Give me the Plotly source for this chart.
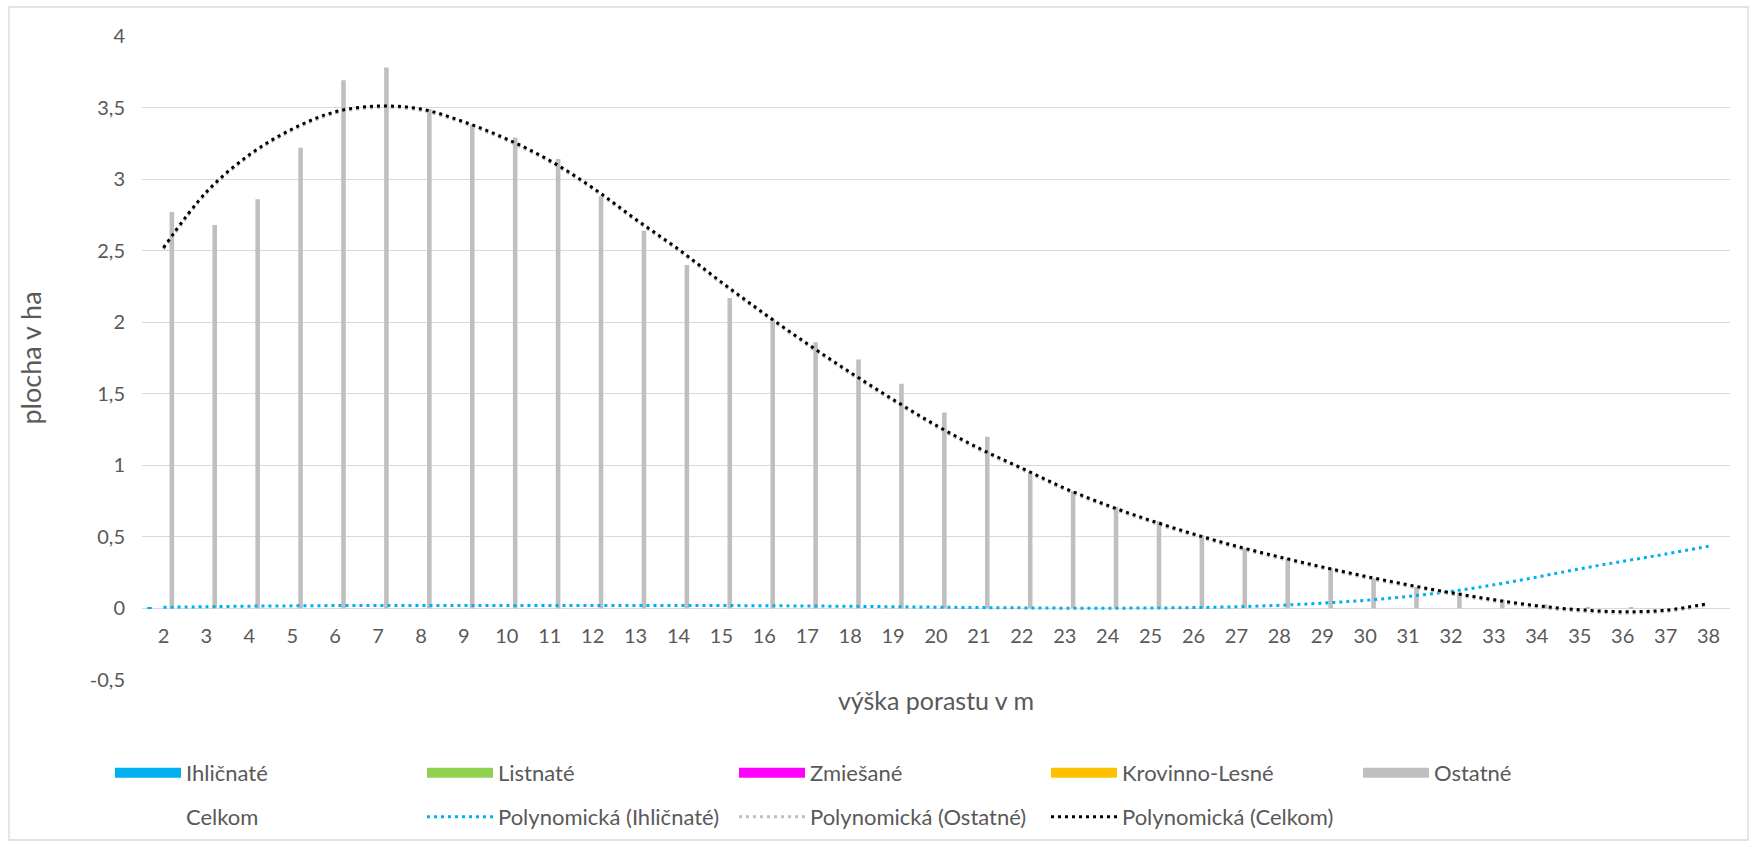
import plotly.graph_objects as go

# ---------------- data ----------------
categories = ["2", "3", "4", "5", "6", "7", "8", "9", "10", "11", "12", "13", "14",
              "15", "16", "17", "18", "19", "20", "21", "22", "23", "24", "25", "26",
              "27", "28", "29", "30", "31", "32", "33", "34", "35", "36", "37", "38"]

ihlicnate = [0.01, 0, 0, 0, 0, 0, 0, 0, 0, 0, 0, 0, 0, 0, 0, 0, 0, 0, 0, 0, 0, 0,
             0, 0, 0, 0, 0, 0, 0, 0, 0, 0, 0, 0, 0, 0, 0]
listnate = [0] * 37
zmiesane = [0] * 37
krovinno_lesne = [0] * 37
ostatne = [2.77, 2.68, 2.86, 3.22, 3.69, 3.78, 3.49, 3.38, 3.29, 3.14, 2.88, 2.64,
           2.40, 2.17, 2.02, 1.86, 1.74, 1.57, 1.37, 1.20, 0.95, 0.82, 0.71, 0.61,
           0.51, 0.42, 0.35, 0.28, 0.21, 0.15, 0.11, 0.06, 0.03, 0.01, 0.01, 0.0, 0.0]
celkom = [2.78, 2.68, 2.86, 3.22, 3.69, 3.78, 3.49, 3.38, 3.29, 3.14, 2.88, 2.64,
          2.40, 2.17, 2.02, 1.86, 1.74, 1.57, 1.37, 1.20, 0.95, 0.82, 0.71, 0.61,
          0.51, 0.42, 0.35, 0.28, 0.21, 0.15, 0.11, 0.06, 0.03, 0.01, 0.01, 0.0, 0.0]

# trendlines (values at each category)
trend_ihlicnate = [0.008, 0.012, 0.016, 0.018, 0.020, 0.020, 0.020, 0.020, 0.021,
                   0.021, 0.021, 0.021, 0.020, 0.020, 0.019, 0.017, 0.015, 0.012,
                   0.009, 0.006, 0.004, 0.002, 0.002, 0.003, 0.006, 0.012, 0.022,
                   0.037, 0.057, 0.084, 0.119, 0.165, 0.219, 0.277, 0.329, 0.380, 0.434]
trend_celkom = [2.52, 2.91, 3.17, 3.35, 3.47, 3.51, 3.49, 3.40, 3.28, 3.13, 2.94,
                2.72, 2.51, 2.28, 2.06, 1.85, 1.65, 1.46, 1.28, 1.12, 0.98, 0.84,
                0.72, 0.615, 0.52, 0.435, 0.36, 0.29, 0.225, 0.165, 0.11, 0.061,
                0.019, -0.009, -0.023, -0.012, 0.035]
trend_ostatne = [2.51, 2.90, 3.16, 3.34, 3.46, 3.50, 3.48, 3.39, 3.27, 3.12, 2.93,
                 2.71, 2.50, 2.27, 2.05, 1.84, 1.64, 1.45, 1.27, 1.11, 0.97, 0.83,
                 0.71, 0.605, 0.51, 0.425, 0.35, 0.28, 0.215, 0.155, 0.10, 0.051,
                 0.009, -0.019, -0.033, -0.022, 0.025]

y_tickvals = [-0.5, 0, 0.5, 1, 1.5, 2, 2.5, 3, 3.5, 4]
y_ticktext = ["-0,5", "0", "0,5", "1", "1,5", "2", "2,5", "3", "3,5", "4"]

# ---------------- layout constants ----------------
W, H = 1756, 847
L, R, T, B = 142, 26, 36, 167
PW, PH = W - L - R, H - T - B
TXT = "#595959"
GRID = "#d9d9d9"
FONT = "Lato"


def px_x(px):
    return (px - L) / PW


def px_y(py):
    return (H - B - py) / PH


fig = go.Figure()

bar_series = [
    ("Ihličnaté", ihlicnate, "#00B0F0", "legend"),
    ("Listnaté", listnate, "#92D050", "legend"),
    ("Zmiešané", zmiesane, "#FF00FF", "legend"),
    ("Krovinno-Lesné", krovinno_lesne, "#FFC000", "legend"),
    ("Ostatné", ostatne, "#BFBFBF", "legend"),
    ("Celkom", celkom, "rgba(0,0,0,0)", "legend2"),
]
for name, vals, col, lg in bar_series:
    fig.add_trace(go.Bar(x=categories, y=vals, name=name, marker_color=col,
                         marker_line_width=0, legendgroup=name, showlegend=False))
    # wide, Excel-like legend swatch for the column series
    fig.add_trace(go.Scatter(x=[None], y=[None], mode="lines", name=name,
                             line=dict(color=col, width=14), legendgroup=name,
                             legend=lg, hoverinfo="skip"))

trend_series = [
    ("Polynomická (Ihličnaté)", trend_ihlicnate, "#00B0F0"),
    ("Polynomická (Ostatné)", trend_ostatne, "#BFBFBF"),
    ("Polynomická (Celkom)", trend_celkom, "#000000"),
]
for name, vals, col in trend_series:
    fig.add_trace(go.Scatter(x=categories, y=vals, name=name, mode="lines",
                             line=dict(color=col, width=3, dash="3px,4px",
                                       shape="spline", smoothing=1.0),
                             legend="legend2"))

legend_common = dict(orientation="h", xanchor="left", yanchor="middle",
                     entrywidth=231, entrywidthmode="pixels", itemwidth=66,
                     font=dict(family=FONT, size=22, color=TXT),
                     bgcolor="rgba(0,0,0,0)", traceorder="normal")

fig.update_layout(
    width=W, height=H,
    margin=dict(l=L, r=R, t=T, b=B, autoexpand=False),
    paper_bgcolor="white", plot_bgcolor="white",
    separators=", ",
    font=dict(family=FONT, color=TXT),
    barmode="group", bargap=0.22, bargroupgap=0.18,
    xaxis=dict(type="category", anchor="free", position=0.5 / 4.5,
               range=[-0.5, 36.5], showgrid=False, showline=False, ticks="",
               tickfont=dict(family=FONT, size=20, color=TXT),
               ticklabelstandoff=14,
               title=dict(text="výška porastu v m",
                          font=dict(family=FONT, size=25, color=TXT),
                          standoff=46),
               automargin=False),
    yaxis=dict(range=[-0.5, 4], tickvals=y_tickvals, ticktext=y_ticktext,
               gridcolor=GRID, gridwidth=1.3,
               zeroline=True, zerolinecolor=GRID, zerolinewidth=1.3,
               showline=False, ticks="",
               tickfont=dict(family=FONT, size=20, color=TXT),
               ticklabelstandoff=16,
               title=dict(text="\u00a0\u00a0\u00a0\u00a0plocha v ha",
                          font=dict(family=FONT, size=27, color=TXT),
                          standoff=40),
               automargin=False),
    legend=dict(x=px_x(110), y=px_y(773), **legend_common),
    legend2=dict(x=px_x(110), y=px_y(817), **legend_common),
    shapes=[dict(type="rect", xref="paper", yref="paper",
                 x0=px_x(9), x1=px_x(1748), y0=px_y(840), y1=px_y(7),
                 line=dict(color=GRID, width=1.3), layer="below")],
    showlegend=True,
)

fig.write_html("out.html", config={"displayModeBar": False},
               post_script="document.body.style.margin='0';")
